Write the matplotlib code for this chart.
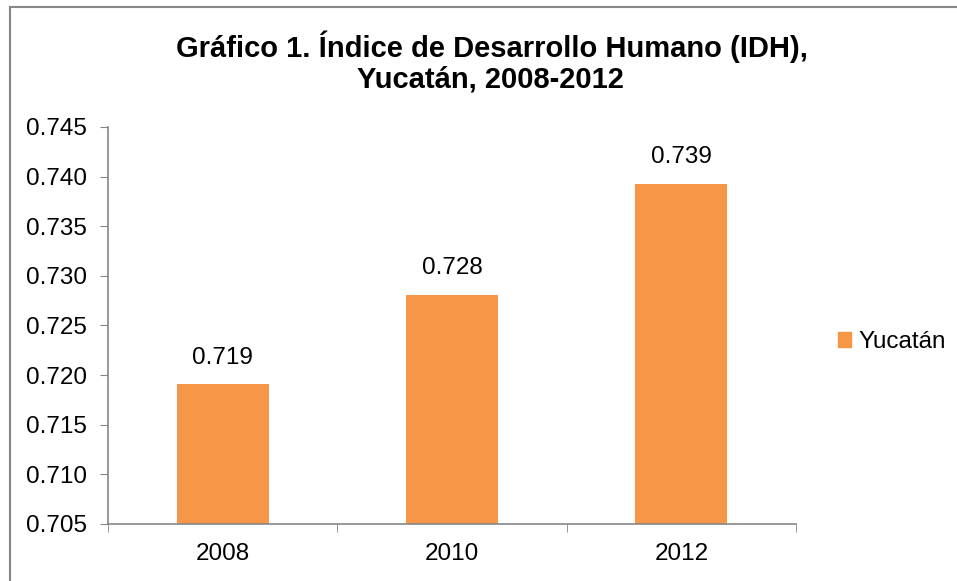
import matplotlib
matplotlib.use("Agg")
import matplotlib.pyplot as plt
from matplotlib.lines import Line2D
from matplotlib.patches import Patch

plt.rcParams['font.family'] = ['Liberation Sans', 'DejaVu Sans']

years = ["2008", "2010", "2012"]
idh = [0.7191, 0.7281, 0.7393]
series_name = "Yucatán"
yticks = [0.705, 0.710, 0.715, 0.720, 0.725, 0.730, 0.735, 0.740, 0.745]

bar_color = "#F79646"
axis_color = "#868686"
fs = 17.5

fig = plt.figure(figsize=(9.57, 5.81), dpi=100)
ax = fig.add_axes([108/957, 1 - 524/581, (796 - 108)/957, (524 - 127)/581])

x = list(range(len(years)))
bars = ax.bar(x, idh, width=0.4, color=bar_color, zorder=2)
for xi, v in zip(x, idh):
    ax.annotate("%.3f" % v, (xi, v), xytext=(0, 11), textcoords="offset points",
                ha="center", va="bottom", fontsize=fs)

ax.set_ylim(0.705, 0.745)
ax.set_yticks(yticks)
ax.set_yticklabels(["%.3f" % t for t in yticks])
ax.set_xlim(-0.5, len(years) - 0.5)
ax.set_xticks(x)
ax.set_xticklabels(years)
ax.set_xticks([i - 0.5 for i in range(len(years) + 1)], minor=True)
ax.tick_params(axis="x", which="major", length=0, pad=14, labelsize=fs)
ax.tick_params(axis="x", which="minor", length=6, color=axis_color, direction="out")
ax.tick_params(axis="y", length=6, color=axis_color, pad=9, labelsize=fs)

for s in ["top", "right"]:
    ax.spines[s].set_visible(False)
for s in ["left", "bottom"]:
    ax.spines[s].set_color(axis_color)
    ax.spines[s].set_linewidth(1.2)

fig.text(492/957, 1 - 47/581, "Gráfico 1. Índice de Desarrollo Humano (IDH),",
         ha="center", va="center", fontsize=21, fontweight="bold")
fig.text(490/957, 1 - 80/581, "Yucatán, 2008-2012",
         ha="center", va="center", fontsize=21, fontweight="bold")

fig.legend(handles=[Patch(color=bar_color, label=series_name)],
           loc="center left", bbox_to_anchor=(838/957, 1 - 342/581),
           frameon=False, fontsize=fs, handlelength=0.55, handleheight=0.55,
           handletextpad=0.3, borderpad=0, borderaxespad=0)

# outer chart border (only top and left edges visible)
fig.add_artist(Line2D([10/957, 1], [1 - 7/581, 1 - 7/581], color=axis_color, lw=1.5,
                      transform=fig.transFigure))
fig.add_artist(Line2D([10/957, 10/957], [0, 1 - 7/581], color=axis_color, lw=1.5,
                      transform=fig.transFigure))

fig.savefig("out.png", dpi=100)
